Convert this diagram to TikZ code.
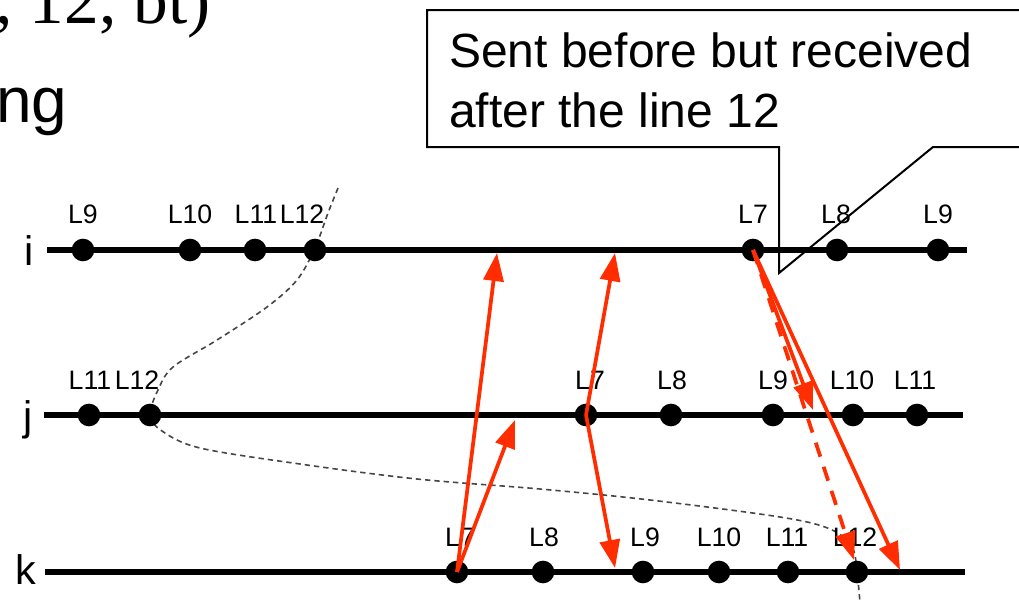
\documentclass[tikz,border=0pt]{standalone}
\usepackage{fontspec}
\setmainfont{Liberation Sans}
\newfontfamily\serifx{Liberation Serif}
\usetikzlibrary{arrows.meta}
\definecolor{msgred}{RGB}{255,45,0}
\definecolor{cutgray}{RGB}{70,70,70}
\begin{document}
\begin{tikzpicture}[x=0.75pt,y=-0.75pt,
  proc/.style={line width=4.5pt},
  ev/.style={circle,fill=black,inner sep=0pt,minimum size=17pt},
  evlab/.style={font=\fontsize{20}{20}\selectfont,anchor=base,inner sep=0pt},
  plab/.style={font=\fontsize{31}{31}\selectfont,anchor=base,inner sep=0pt},
  msg/.style={draw=msgred,line width=2.8pt,-{Triangle[length=21pt,width=15pt,fill=msgred]}},
  dmsg/.style={msg,dash pattern=on 11pt off 8pt},
  cut/.style={draw=cutgray,line width=1.2pt,dash pattern=on 4pt off 3pt},
  callout/.style={draw=black,line width=1.5pt}
]
\useasboundingbox (0,0) rectangle (1019,603);
\clip (0,0) rectangle (1019,603);

% cropped slide text
\node[anchor=base west,inner sep=0pt,font=\serifx\fontsize{52}{52}\selectfont] (t1) at (-5,23) {, 12, bt)};
\node[anchor=base west,inner sep=0pt,font=\fontsize{48}{48}\selectfont] (t2) at (-4,122) {ng};

% process names
\node[plab] (pi) at (29,265) {i};
\node[plab] (pj) at (28,430) {j};
\node[plab] (pk) at (26,584) {k};

% process lines
\coordinate (is) at (47,250); \coordinate (ie) at (967,250);
\coordinate (js) at (44,415); \coordinate (je) at (963,415);
\coordinate (ks) at (45,572); \coordinate (ke) at (965,572);
\draw[proc] (is) -- (ie);
\draw[proc] (js) -- (je);
\draw[proc] (ks) -- (ke);

% cut line
\draw[cut] plot[smooth,tension=0.55] coordinates {(338,188) (328,213) (315,248) (297,280) (267,307) (217,340) (173,367) (158,390) (150,415) (162,431) (200,448) (300,464) (417,479) (540,489) (650,500) (780,517) (830,529) (852,547) (857,572) (860,603)};

% events on i
\node[ev] (iL9) at (83,250) {};
\node[ev] (iL10) at (190,250) {};
\node[ev] (iL11) at (255,250) {};
\node[ev] (iL12) at (315,250) {};
\node[ev] (iL7) at (753,250) {};
\node[ev] (iL8) at (837,250) {};
\node[ev] (iL9b) at (938,250) {};
% events on j
\node[ev] (jL11) at (89,415) {};
\node[ev] (jL12) at (150,415) {};
\node[ev] (jL7) at (586,415) {};
\node[ev] (jL8) at (671,415) {};
\node[ev] (jL9) at (773,415) {};
\node[ev] (jL10) at (853,415) {};
\node[ev] (jL11b) at (917,415) {};
% events on k
\node[ev] (kL7) at (457,572) {};
\node[ev] (kL8) at (543,572) {};
\node[ev] (kL9) at (643,572) {};
\node[ev] (kL10) at (719,572) {};
\node[ev] (kL11) at (788,572) {};
\node[ev] (kL12) at (857,572) {};

% labels i
\node[evlab] (liL9) at (83,223) {L9};
\node[evlab] (liL10) at (190,223) {L10};
\node[evlab] (liL11) at (256,223) {L11};
\node[evlab] (liL12) at (302,223) {L12};
\node[evlab] (liL7) at (753,223) {L7};
\node[evlab] (liL8) at (836,223) {L8};
\node[evlab] (liL9b) at (938,223) {L9};
% labels j
\node[evlab] (ljL11) at (90,389) {L11};
\node[evlab] (ljL12) at (137,389) {L12};
\node[evlab] (ljL7) at (590,389) {L7};
\node[evlab] (ljL8) at (672,389) {L8};
\node[evlab] (ljL9) at (773,389) {L9};
\node[evlab] (ljL10) at (852,389) {L10};
\node[evlab] (ljL11b) at (915,389) {L11};
% labels k
\node[evlab] (lkL7) at (460,546) {L7};
\node[evlab] (lkL8) at (544,546) {L8};
\node[evlab] (lkL9) at (645,546) {L9};
\node[evlab] (lkL10) at (719,546) {L10};
\node[evlab] (lkL11) at (787,546) {L11};
\node[evlab] (lkL12) at (855,546) {L12};

% message end points
\coordinate (m1) at (497,253);
\coordinate (m2) at (515,420);
\coordinate (m3) at (615,253);
\coordinate (m4) at (615,568);
\coordinate (m5) at (813,410);
\coordinate (m6) at (854,560);
\coordinate (m7) at (900,570);

% messages
\draw[msg] (kL7.center) -- (m1);
\draw[msg] (kL7.center) -- (m2);
\draw[msg] (jL7.center) -- (m3);
\draw[msg] (jL7.center) -- (m4);
\draw[dmsg] (iL7.center) -- (m6);
\draw[msg] (iL7.center) -- (m5);
\draw[msg] (iL7.center) -- (m7);

% callout
\coordinate (c1) at (427,10);
\coordinate (c2) at (1030,10);
\coordinate (c3) at (427,147);
\coordinate (c4) at (779,147);
\coordinate (c5) at (779,273);
\coordinate (c6) at (933,147);
\coordinate (c7) at (1030,147);
\draw[callout] (c2) -- (c1) -- (c3) -- (c4) -- (c5) -- (c6) -- (c7);
\node[anchor=base west,inner sep=0pt,font=\fontsize{36}{45}\selectfont,align=left] (ctext) at (449,127) {Sent before but received\\after the line 12};
\end{tikzpicture}
\end{document}
